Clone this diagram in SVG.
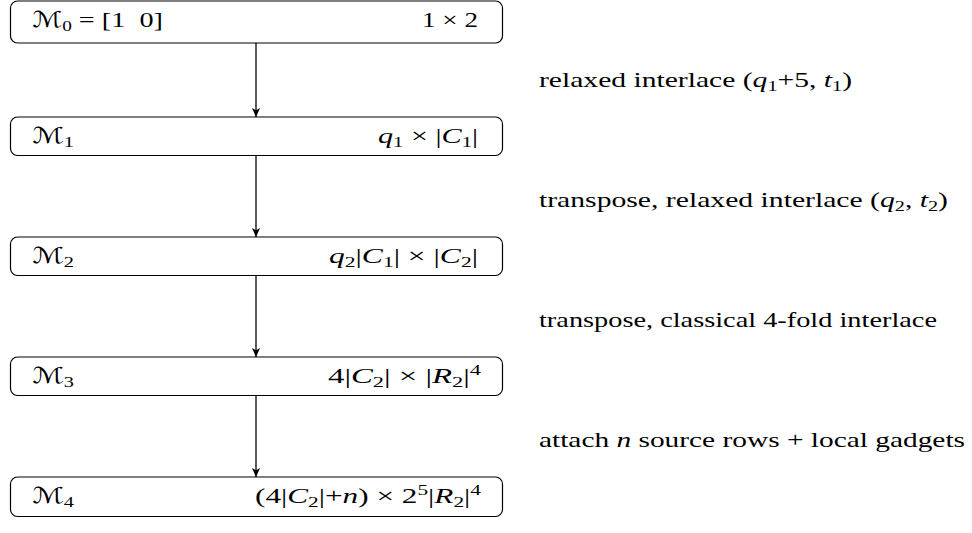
<svg xmlns="http://www.w3.org/2000/svg" width="972" height="533" viewBox="0 0 972 533">
<defs>
<marker id="arr" viewBox="0 0 10 10" refX="10" refY="5" markerWidth="9" markerHeight="9" markerUnits="userSpaceOnUse" orient="auto">
<path d="M0,0.5 L10,5 L0,9.5 L2.5,5 Z" fill="#000"/>
</marker>
<style>
.box{fill:#fff;stroke:#000;stroke-width:1.2}
.t{font-family:"Liberation Serif","DejaVu Serif",serif;font-size:22px;fill:#000}
.i{font-style:italic}
.cal{font-family:"DejaVu Serif","DejaVu Sans",serif;font-style:normal}
.s{font-size:15px}
.conn line{stroke:#000;stroke-width:1.3;marker-end:url(#arr)}
</style>
</defs>
<rect width="972" height="533" fill="#fff"/>
<g class="conn" id="connectors">
<line x1="256" y1="43" x2="256" y2="117"/>
<line x1="256" y1="156" x2="256" y2="237"/>
<line x1="256" y1="276" x2="256" y2="357"/>
<line x1="256" y1="396" x2="256" y2="477"/>
</g>
<g id="m0">
<rect class="box" x="10.5" y="1" width="492" height="42" rx="7"/>
<text class="t" x="32" y="27" textLength="131" lengthAdjust="spacingAndGlyphs"><tspan class="cal">ℳ</tspan><tspan class="s" dy="4">0</tspan><tspan dy="-4"> = [1&#160; 0]</tspan></text>
<text class="t" x="478" y="27" text-anchor="end" textLength="56" lengthAdjust="spacingAndGlyphs">1 × 2</text>
</g>
<g id="m1">
<rect class="box" x="10.5" y="117" width="492" height="38.5" rx="7"/>
<text class="t" x="32" y="143" textLength="42" lengthAdjust="spacingAndGlyphs"><tspan class="cal">ℳ</tspan><tspan class="s" dy="4">1</tspan></text>
<text class="t" x="478" y="143" text-anchor="end" textLength="100" lengthAdjust="spacingAndGlyphs"><tspan class="i">q</tspan><tspan class="s" dy="4">1</tspan><tspan dy="-4"> × |</tspan><tspan class="i">C</tspan><tspan class="s" dy="4">1</tspan><tspan dy="-4">|</tspan></text>
</g>
<g id="m2">
<rect class="box" x="10.5" y="237" width="492" height="38.5" rx="7"/>
<text class="t" x="32" y="263" textLength="42" lengthAdjust="spacingAndGlyphs"><tspan class="cal">ℳ</tspan><tspan class="s" dy="4">2</tspan></text>
<text class="t" x="478" y="263" text-anchor="end" textLength="149" lengthAdjust="spacingAndGlyphs"><tspan class="i">q</tspan><tspan class="s" dy="4">2</tspan><tspan dy="-4">|</tspan><tspan class="i">C</tspan><tspan class="s" dy="4">1</tspan><tspan dy="-4">| × |</tspan><tspan class="i">C</tspan><tspan class="s" dy="4">2</tspan><tspan dy="-4">|</tspan></text>
</g>
<g id="m3">
<rect class="box" x="10.5" y="357" width="492" height="38.5" rx="7"/>
<text class="t" x="32" y="383" textLength="42" lengthAdjust="spacingAndGlyphs"><tspan class="cal">ℳ</tspan><tspan class="s" dy="4">3</tspan></text>
<text class="t" x="481" y="383" text-anchor="end" textLength="153" lengthAdjust="spacingAndGlyphs">4|<tspan class="i">C</tspan><tspan class="s" dy="4">2</tspan><tspan dy="-4">| × |</tspan><tspan class="i">R</tspan><tspan class="s" dy="4">2</tspan><tspan dy="-4">|</tspan><tspan class="s" dy="-8">4</tspan></text>
</g>
<g id="m4">
<rect class="box" x="10.5" y="477" width="492" height="39.5" rx="7"/>
<text class="t" x="32" y="503" textLength="42" lengthAdjust="spacingAndGlyphs"><tspan class="cal">ℳ</tspan><tspan class="s" dy="4">4</tspan></text>
<text class="t" x="481" y="503" text-anchor="end" textLength="226" lengthAdjust="spacingAndGlyphs">(4|<tspan class="i">C</tspan><tspan class="s" dy="4">2</tspan><tspan dy="-4">|+</tspan><tspan class="i">n</tspan>) × 2<tspan class="s" dy="-8">5</tspan><tspan dy="8">|</tspan><tspan class="i">R</tspan><tspan class="s" dy="4">2</tspan><tspan dy="-4">|</tspan><tspan class="s" dy="-8">4</tspan></text>
</g>
<g id="labels">
<text class="t" x="539" y="87" textLength="313" lengthAdjust="spacingAndGlyphs">relaxed interlace (<tspan class="i">q</tspan><tspan class="s" dy="4">1</tspan><tspan dy="-4">+5, </tspan><tspan class="i">t</tspan><tspan class="s" dy="4">1</tspan><tspan dy="-4">)</tspan></text>
<text class="t" x="539" y="207" textLength="409" lengthAdjust="spacingAndGlyphs">transpose, relaxed interlace (<tspan class="i">q</tspan><tspan class="s" dy="4">2</tspan><tspan dy="-4">, </tspan><tspan class="i">t</tspan><tspan class="s" dy="4">2</tspan><tspan dy="-4">)</tspan></text>
<text class="t" x="539" y="327" textLength="398" lengthAdjust="spacingAndGlyphs">transpose, classical 4-fold interlace</text>
<text class="t" x="539" y="447" textLength="426" lengthAdjust="spacingAndGlyphs">attach <tspan class="i">n</tspan> source rows + local gadgets</text>
</g>
</svg>
